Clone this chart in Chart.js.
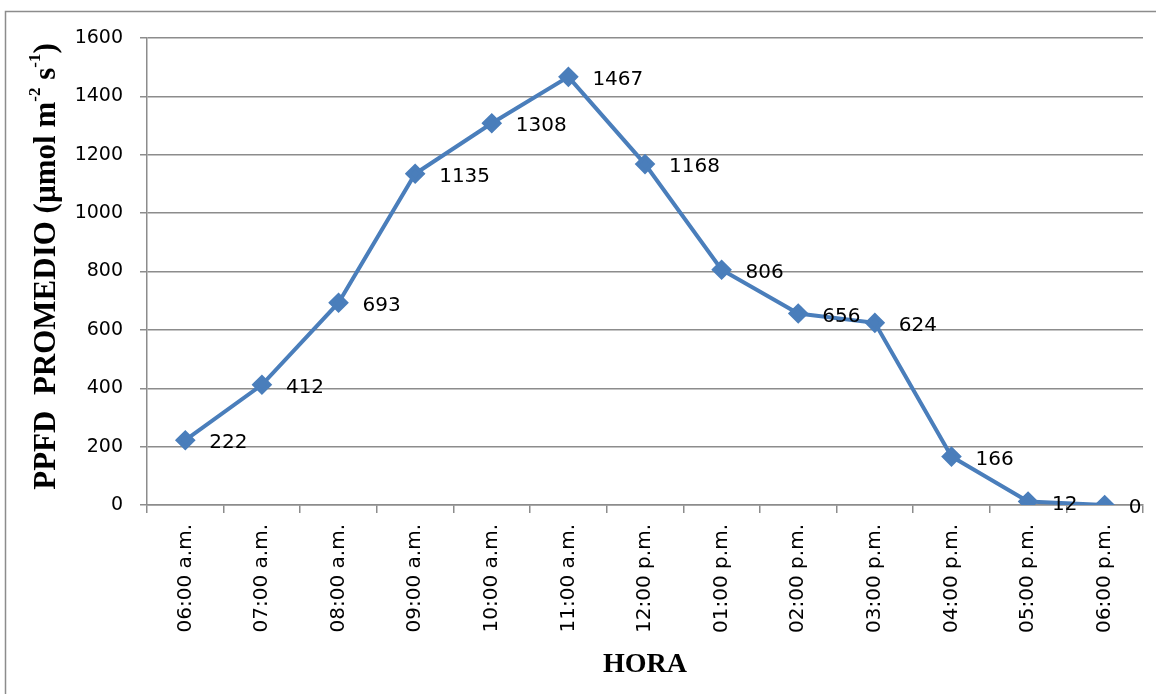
<!DOCTYPE html>
<html>
<head>
<meta charset="utf-8">
<script src="https://cdn.jsdelivr.net/npm/chart.js@4"></script>
<style>
    body { margin: 0; background: #fff; }
    #wrap { width: 1156px; height: 694px; position: relative; }
</style>
</head>
<body>
<div id="wrap"><canvas id="chart" width="1156" height="694"></canvas></div>
<script>
// data
const horas = ['06:00 a.m.', '07:00 a.m.', '08:00 a.m.', '09:00 a.m.', '10:00 a.m.', '11:00 a.m.',
    '12:00 p.m.', '01:00 p.m.', '02:00 p.m.', '03:00 p.m.', '04:00 p.m.', '05:00 p.m.', '06:00 p.m.'];
const ppfd = [222, 412, 693, 1135, 1308, 1467, 1168, 806, 656, 624, 166, 12, 0];
const yTicks = [0, 200, 400, 600, 800, 1000, 1200, 1400, 1600];

const azul = '#4a7ebb';
const gris = '#8c8c8c';

// value labels to the right of each point + axis titles + frame
const extras = {
    id: 'extras',
    afterDatasetsDraw(chart) {
        const c = chart.ctx;
        const meta = chart.getDatasetMeta(0);
        c.save();
        c.font = '20px "DejaVu Sans"';
        c.fillStyle = '#000';
        c.textAlign = 'left';
        c.textBaseline = 'middle';
        meta.data.forEach((pt, i) => {
            c.fillText(String(ppfd[i]), pt.x + 24, pt.y + 3);
        });
        c.restore();
    },
    afterDraw(chart) {
        const c = chart.ctx;
        const area = chart.chartArea;
        c.save();
        // frame (top and left only visible)
        c.strokeStyle = gris;
        c.lineWidth = 1.5;
        c.beginPath();
        c.moveTo(5.5, 694);
        c.lineTo(5.5, 11.5);
        c.lineTo(1156, 11.5);
        c.stroke();

        // x title
        c.fillStyle = '#000';
        c.font = 'bold 28px "Liberation Serif"';
        c.textAlign = 'center';
        c.textBaseline = 'middle';
        c.fillText('HORA', (area.left + area.right) / 2, 665);

        // y title with superscripts
        c.translate(47, (area.top + area.bottom) / 2 - 5);
        c.rotate(-Math.PI / 2);
        const big = 'bold 31px "Liberation Serif"';
        const small = 'bold 17px "Liberation Serif"';
        const parts = [
            ['PPFD  PROMEDIO (\u00b5mol m', big, 0],
            ['-2', small, -11],
            [' s', big, 0],
            ['-1', small, -11],
            [')', big, 0]
        ];
        let total = 0;
        parts.forEach(p => { c.font = p[1]; total += c.measureText(p[0]).width; });
        let x = -total / 2;
        c.textAlign = 'left';
        c.textBaseline = 'middle';
        parts.forEach(p => {
            c.font = p[1];
            c.fillText(p[0], x, p[2]);
            x += c.measureText(p[0]).width;
        });
        c.restore();
    }
};

new Chart(document.getElementById('chart'), {
    type: 'line',
    data: {
        labels: horas,
        datasets: [{
            data: ppfd,
            borderColor: azul,
            backgroundColor: azul,
            borderWidth: 4,
            pointStyle: 'rectRot',
            pointRadius: 7.5,
            pointHoverRadius: 7.5,
            pointBackgroundColor: azul,
            pointBorderColor: azul,
            tension: 0
        }]
    },
    options: {
        responsive: false,
        animation: false,
        layout: { padding: { top: 38, right: 13, left: 0, bottom: 0 } },
        plugins: {
            legend: { display: false },
            tooltip: { enabled: false }
        },
        scales: {
            x: {
                offset: true,
                afterFit: s => { s.height = 189; },
                grid: {
                    offset: true,
                    drawOnChartArea: false,
                    drawTicks: true,
                    tickLength: 8,
                    color: gris,
                    lineWidth: 1.5
                },
                border: { color: gris, width: 1.5 },
                ticks: {
                    autoSkip: false,
                    minRotation: 90,
                    maxRotation: 90,
                    padding: 11,
                    color: '#000',
                    font: { family: 'DejaVu Sans', size: 20 }
                }
            },
            y: {
                min: 0,
                max: 1600,
                afterFit: s => { s.width = 147; },
                afterBuildTicks: s => { s.ticks = yTicks.map(v => ({ value: v })); },
                grid: {
                    color: gris,
                    lineWidth: 1.5,
                    drawTicks: true,
                    tickLength: 7
                },
                border: { color: gris, width: 1.5 },
                ticks: {
                    padding: 17,
                    color: '#000',
                    font: { family: 'DejaVu Sans', size: 19 },
                    callback: v => String(v)
                }
            }
        }
    },
    plugins: [extras]
});
</script>
</body>
</html>
